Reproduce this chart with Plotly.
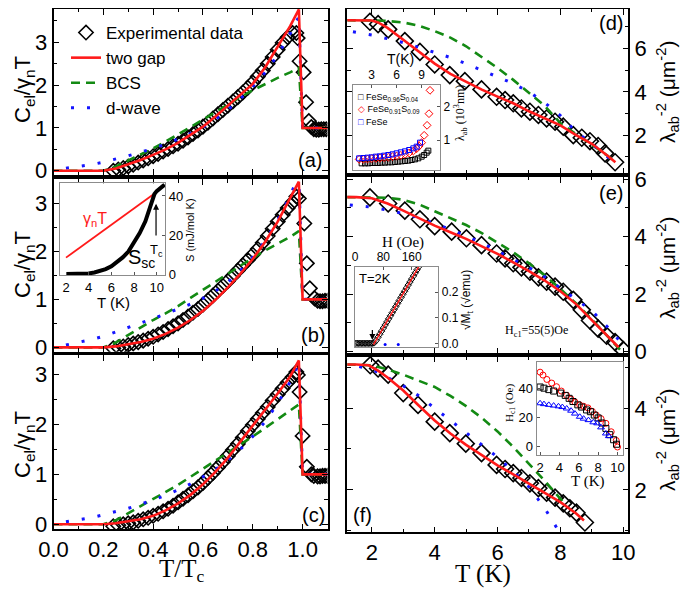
import plotly.graph_objects as go

SANS = "Liberation Sans"
SERIF = "Liberation Serif"
RED = "#ff1a1a"
GREEN = "#138a13"
BLUE = "#1515ff"

# ================= LEFT COLUMN : C_el / gamma_n T  vs  T/Tc =================
exp_x = [0.24, 0.26, 0.28, 0.30, 0.32, 0.34, 0.36, 0.38, 0.40, 0.42, 0.44, 0.46, 0.48,
         0.50, 0.52, 0.54, 0.56, 0.58, 0.60, 0.62, 0.64, 0.66, 0.68, 0.70, 0.72, 0.74,
         0.76, 0.78, 0.80, 0.82, 0.84, 0.86, 0.88, 0.90, 0.92, 0.94, 0.96]
exp_a = [0.0, 0.03, 0.06, 0.1, 0.14, 0.19, 0.24, 0.29, 0.34, 0.39, 0.45, 0.51, 0.57,
         0.63, 0.7, 0.78, 0.86, 0.94, 1.03, 1.12, 1.22, 1.32, 1.42, 1.52, 1.62, 1.72,
         1.83, 1.94, 2.06, 2.2, 2.34, 2.5, 2.66, 2.83, 2.99, 3.12, 3.22]
exp_b = [-0.02, 0.0, 0.02, 0.05, 0.08, 0.11, 0.14, 0.18, 0.22, 0.27, 0.32, 0.38, 0.44,
         0.5, 0.57, 0.64, 0.72, 0.8, 0.89, 0.98, 1.08, 1.18, 1.28, 1.38, 1.49, 1.6,
         1.71, 1.82, 1.93, 2.05, 2.18, 2.32, 2.47, 2.62, 2.76, 2.9, 3.02]
exp_c = [-0.04, -0.02, 0.0, 0.02, 0.04, 0.07, 0.1, 0.13, 0.17, 0.21, 0.26, 0.31, 0.37,
         0.44, 0.51, 0.58, 0.66, 0.74, 0.83, 0.93, 1.03, 1.14, 1.25, 1.37, 1.49, 1.61,
         1.74, 1.87, 1.99, 2.11, 2.23, 2.35, 2.48, 2.6, 2.72, 2.84, 2.95]
trans_a_x = [0.975, 0.98, 0.988, 1.004, 1.014, 1.025, 1.035, 1.045, 1.055, 1.065, 1.075, 1.085, 1.095]
trans_a_y = [3.22, 3.1, 2.56, 2.3, 1.6, 1.16, 1.02, 0.97, 0.96, 0.96, 0.97, 0.97, 0.97]
trans_b_x = [0.975, 0.985, 1.007, 1.017, 1.029, 1.048, 1.06, 1.07, 1.08, 1.09, 1.1]
trans_b_y = [3.14, 3.1, 2.58, 1.75, 1.23, 1.02, 0.97, 0.96, 0.96, 0.97, 0.97]
trans_c_x = [0.975, 0.981, 0.988, 1.0, 1.017, 1.035, 1.045, 1.06, 1.07, 1.08, 1.09, 1.1]
trans_c_y = [3.05, 2.99, 2.65, 1.77, 1.15, 1.0, 0.97, 0.96, 0.96, 0.97, 0.97, 0.97]

fit_x = [0.0, 0.2, 0.25, 0.3, 0.35, 0.4, 0.45, 0.5, 0.55, 0.6, 0.65, 0.7, 0.75, 0.8,
         0.85, 0.9, 0.95, 0.985, 1.0, 1.1]
twogap_a = [0, 0, 0.05, 0.15, 0.25, 0.37, 0.5, 0.65, 0.83, 1.03, 1.27, 1.52, 1.77, 2.03,
            2.42, 2.9, 3.38, 3.77, 1.0, 1.0]
twogap_b = [0, 0, 0.02, 0.06, 0.11, 0.18, 0.28, 0.41, 0.57, 0.76, 0.99, 1.25, 1.53, 1.84,
            2.2, 2.62, 3.1, 3.45, 1.0, 1.0]
twogap_c = [0, 0, 0.02, 0.06, 0.1, 0.17, 0.28, 0.42, 0.59, 0.8, 1.05, 1.33, 1.65, 1.98,
            2.3, 2.62, 2.96, 3.28, 1.0, 1.0]
bcs_a = [0, 0, 0.1, 0.25, 0.38, 0.52, 0.68, 0.85, 1.02, 1.2, 1.38, 1.55, 1.72, 1.88,
         2.03, 2.17, 2.3, 2.4, 1.0, 1.0]
bcs_b = [0, 0, 0.1, 0.26, 0.42, 0.57, 0.71, 0.86, 1.03, 1.2, 1.37, 1.53, 1.7, 1.86,
         2.02, 2.16, 2.3, 2.42, 1.0, 1.0]
bcs_c = [0, 0, 0.08, 0.22, 0.36, 0.5, 0.64, 0.79, 0.95, 1.11, 1.27, 1.43, 1.6, 1.76,
         1.93, 2.1, 2.28, 2.4, 1.0, 1.0]
dw_x = [0.05, 0.1, 0.15, 0.2, 0.25, 0.3, 0.35, 0.4, 0.45, 0.5, 0.55, 0.6, 0.65, 0.7,
        0.75, 0.8, 0.85, 0.9, 0.95, 0.985, 1.0, 1.1]
dwave_a = [0.06, 0.1, 0.14, 0.2, 0.27, 0.35, 0.43, 0.52, 0.62, 0.74, 0.87, 1.02, 1.2, 1.42,
           1.68, 1.97, 2.3, 2.7, 3.2, 3.6, 1.0, 1.0]
dwave_b = [0.05, 0.1, 0.16, 0.23, 0.32, 0.41, 0.5, 0.6, 0.7, 0.8, 0.9, 1.02, 1.17, 1.36,
           1.6, 1.88, 2.22, 2.65, 3.15, 3.6, 1.0, 1.0]
dwave_c = [0.05, 0.09, 0.13, 0.19, 0.25, 0.32, 0.4, 0.49, 0.58, 0.69, 0.81, 0.95, 1.1, 1.28,
           1.5, 1.76, 2.06, 2.42, 2.85, 3.25, 1.0, 1.0]
left_ticks = [0, 1, 2, 3]
left_xticks = [0.0, 0.2, 0.4, 0.6, 0.8, 1.0]

# ================= RIGHT COLUMN : lambda_ab^-2 vs T =================
d_T = [1.94, 2.2, 2.52, 3.05, 3.53, 4.0, 4.48, 4.96, 5.49, 5.97, 6.24, 6.5, 6.76, 7.03,
       7.3, 7.56, 7.83, 8.09, 8.41, 8.68, 8.94, 9.2, 9.42, 9.74]
d_lam = [7.23, 7.12, 6.88, 6.34, 5.84, 5.26, 4.77, 4.49, 4.11, 3.77, 3.62, 3.47, 3.23, 3.08,
         2.93, 2.77, 2.62, 2.39, 2.0, 1.88, 1.72, 1.5, 1.16, 0.75]
d_tg_T = [1.2, 1.5, 2.0, 2.2, 2.5, 3.0, 3.5, 4.0, 4.5, 5.0, 5.5, 6.0, 6.5, 7.0, 7.5, 8.0,
          8.5, 9.0, 9.5, 9.75]
d_tg = [7.3, 7.3, 7.29, 7.2, 6.95, 6.4, 5.85, 5.3, 4.83, 4.45, 4.1, 3.78, 3.47, 3.1, 2.78,
        2.45, 2.0, 1.6, 1.05, 0.75]
d_bcs_T = [1.2, 2.0, 2.4, 3.0, 3.5, 4.0, 4.5, 5.0, 5.5, 6.0, 6.5, 7.0, 7.5, 8.0, 8.5, 9.0,
           9.5, 9.75]
d_bcs = [7.3, 7.3, 7.28, 7.2, 7.05, 6.8, 6.5, 6.1, 5.6, 5.1, 4.55, 3.95, 3.35, 2.55, 2.05,
         1.55, 1.05, 0.75]
d_dw_T = [1.4, 2.0, 2.5, 3.0, 3.5, 4.0, 4.5, 5.0, 5.5, 6.0, 6.5, 7.0, 7.5, 8.0, 8.5, 9.0,
          9.5, 9.75]
d_dw = [6.77, 6.62, 6.45, 6.27, 6.05, 5.83, 5.58, 5.3, 5.0, 4.7, 4.38, 4.0, 3.5, 2.9, 2.15,
        1.6, 1.0, 0.7]

e_T = [1.94, 2.52, 3.05, 3.53, 4.0, 4.54, 5.01, 5.49, 5.97, 6.24, 6.5, 6.76, 7.03, 7.3,
       7.56, 7.83, 8.09, 8.41, 8.68, 8.94, 9.2, 9.47, 9.74, 10.0]
e_lam = [5.36, 5.15, 4.9, 4.6, 4.36, 4.17, 3.94, 3.7, 3.41, 3.24, 3.07, 2.93, 2.78, 2.58,
         2.43, 2.26, 2.08, 1.8, 1.45, 1.08, 0.8, 0.55, 0.33, 0.05]
e_tg_T = [1.2, 1.5, 2.0, 2.5, 3.0, 3.5, 4.0, 4.5, 5.0, 5.5, 6.0, 6.5, 7.0, 7.5, 8.0, 8.5,
          9.0, 9.5, 9.85]
e_tg = [5.37, 5.37, 5.33, 5.15, 4.9, 4.63, 4.38, 4.15, 3.92, 3.66, 3.4, 3.1, 2.8, 2.47,
        2.1, 1.65, 1.1, 0.55, 0.15]
e_bcs_T = [1.2, 2.0, 2.5, 3.0, 3.5, 4.0, 4.5, 5.0, 5.5, 6.0, 6.5, 7.0, 7.5, 8.0, 8.5, 9.0,
           9.5, 9.95]
e_bcs = [5.37, 5.37, 5.35, 5.28, 5.12, 4.88, 4.65, 4.4, 4.12, 3.8, 3.45, 3.07, 2.65, 2.18,
         1.67, 1.12, 0.55, 0.0]
e_dw_T = [1.3, 2.0, 2.5, 3.0, 3.5, 4.0, 4.5, 5.0, 5.5, 6.0, 6.5, 7.0, 7.5, 8.0, 8.5, 9.0,
          9.5, 9.9]
e_dw = [5.1, 5.02, 4.92, 4.8, 4.65, 4.45, 4.25, 4.02, 3.78, 3.5, 3.22, 2.92, 2.6, 2.2, 1.8,
        1.42, 0.85, 0.35]

f_T = [1.95, 2.2, 2.52, 3.0, 3.47, 4.0, 4.48, 4.99, 5.49, 5.97, 6.24, 6.5, 6.76, 7.03,
       7.3, 7.56, 7.83, 8.09, 8.3, 8.51, 8.78]
f_lam = [5.05, 4.97, 4.82, 4.37, 4.08, 3.67, 3.39, 3.13, 2.9, 2.61, 2.51, 2.41, 2.29, 2.16,
         2.04, 1.93, 1.81, 1.67, 1.55, 1.44, 1.2]
f_tg_T = [1.2, 1.5, 1.9, 2.2, 2.5, 3.0, 3.5, 4.0, 4.5, 5.0, 5.5, 6.0, 6.5, 7.0, 7.5, 8.0,
          8.5, 8.75]
f_tg = [5.07, 5.07, 5.05, 4.92, 4.75, 4.43, 4.06, 3.7, 3.38, 3.1, 2.85, 2.6, 2.38, 2.16,
        1.94, 1.7, 1.42, 1.25]
f_bcs_T = [1.2, 2.0, 2.5, 3.0, 3.5, 4.0, 4.5, 5.0, 5.5, 6.0, 6.5, 7.0, 7.5, 8.0, 8.1]
f_bcs = [5.07, 5.05, 4.95, 4.82, 4.67, 4.52, 4.3, 4.05, 3.76, 3.43, 3.05, 2.64, 2.22, 1.78, 1.7]
f_dw_T = [1.6, 2.0, 2.5, 3.0, 3.5, 4.0, 4.5, 5.0, 5.5, 6.0, 6.5, 7.0, 7.5, 7.9, 8.1]
f_dw = [5.02, 4.95, 4.75, 4.55, 4.3, 4.0, 3.72, 3.42, 3.12, 2.8, 2.45, 2.07, 1.55, 1.06, 0.8]
right_xticks = [2, 4, 6, 8, 10]

# ================= INSETS =================
# (b) entropy
insb_gamma_T = [2.0, 9.75]
insb_gamma_S = [8.4, 41.0]
insb_T = [2.0, 3.0, 4.0, 4.5, 5.0, 5.5, 6.0, 6.5, 7.0, 7.5, 8.0, 8.5, 9.0, 9.3, 9.6, 9.8,
          10.0, 10.3, 10.7]
insb_S = [0.0, 0.0, 0.3, 0.8, 1.5, 2.5, 4.0, 6.0, 8.5, 11.5, 16.0, 21.0, 27.0, 32.0, 38.0,
          41.0, 42.5, 44.0, 45.8]
# (d) penetration depth
insd_T_k = [1.8, 2.2, 2.6, 3.0, 3.4, 3.8, 4.2, 4.6, 5.0, 5.4, 5.8, 6.2, 6.6, 7.0, 7.4, 7.8,
            8.2, 8.6, 9.0, 9.3, 9.6, 9.8]
insd_l_k = [0.3, 0.3, 0.3, 0.31, 0.31, 0.31, 0.32, 0.32, 0.33, 0.33, 0.34, 0.35, 0.36, 0.37,
            0.38, 0.4, 0.42, 0.45, 0.5, 0.55, 0.62, 0.68]
insd_T_r = [1.5, 2.0, 2.5, 3.0, 3.5, 4.0, 4.5, 5.0, 5.5, 6.0, 6.5, 7.0, 7.5, 8.0, 8.4, 8.7,
            9.0, 9.3, 9.65, 9.88, 10.0]
insd_l_r = [0.42, 0.42, 0.43, 0.44, 0.45, 0.46, 0.47, 0.48, 0.5, 0.52, 0.54, 0.57, 0.61, 0.67,
            0.74, 0.82, 0.92, 1.14, 1.44, 1.79, 2.49]
insd_T_b = [1.5, 2.0, 2.5, 3.0, 3.5, 4.0, 4.5, 5.0, 5.5, 6.0, 6.5, 7.0, 7.5, 8.0, 8.4, 8.8]
insd_l_b = [0.45, 0.46, 0.47, 0.48, 0.5, 0.51, 0.53, 0.55, 0.57, 0.6, 0.63, 0.66, 0.7, 0.75,
            0.8, 0.92]
# (e) magnetisation
inse_H = [2, 6, 10, 14, 18, 22, 26, 30, 34, 38, 42, 46, 50, 54, 60, 65, 70, 75, 80, 85, 90,
          95, 100, 105, 110, 115, 120, 125, 130, 135, 140, 145, 150, 155, 160, 165, 170, 175, 180]
inse_M = [0.0, 0.0, 0.0, 0.0, 0.0, 0.0, 0.0, 0.0, 0.0, 0.0, 0.0, 0.0, 0.0, 0.002, 0.012,
          0.024, 0.036, 0.048, 0.06, 0.072, 0.084, 0.096, 0.108, 0.12, 0.132, 0.144, 0.156,
          0.168, 0.18, 0.192, 0.204, 0.216, 0.228, 0.24, 0.252, 0.264, 0.276, 0.288, 0.3]
inse_fit_H = [52, 182]
inse_fit_M = [-0.005, 0.305]
inse_blue_H = [85, 122]
inse_blue_M = [-0.004, -0.004]
# (f) Hc1
insf_T_r = [2.0, 2.3, 2.7, 3.2, 3.7, 4.2, 4.75, 5.2, 5.6, 6.1, 6.5, 6.95, 7.4, 7.8, 8.3,
            8.8, 9.35, 9.87, 10.0]
insf_H_r = [51, 49, 46, 43.5, 41, 38, 35, 32.5, 30.5, 28.5, 27.5, 26.4, 24, 21.5, 19, 15.8,
            10, 4, -0.5]
insf_T_k = [2.0, 2.4, 2.9, 3.4, 4.1, 4.6, 5.0, 5.4, 5.9, 6.3, 6.8, 7.2, 7.6, 8.0, 8.4, 8.8,
            9.2, 9.6, 9.9]
insf_H_k = [40.8, 40, 39, 38, 36.6, 35, 33, 30.8, 28.5, 27, 25, 23.8, 21.5, 19.5, 16, 12.3,
            8, 4.5, 1.4]
insf_T_b = [2.0, 2.4, 2.9, 3.4, 3.9, 4.3, 4.75, 5.2, 5.6, 6.1, 6.5, 7.0, 7.5, 7.9, 8.3, 8.8,
            9.1]
insf_H_b = [29.6, 29, 28.5, 28, 27.5, 27, 26, 24.5, 22.5, 20.3, 19, 18, 16.5, 15.8, 13, 8.8, 7]

# ================= FIGURE =================
# the page body has an 8 px default margin: the figure is drawn 8 px in from the
# window corner, so it is 682x581 and positions are given in window pixels.
OFF = 8
W, H = 690 - OFF, 589 - OFF


def px(x):
    return min(max((x - OFF) / W, 0.0), 1.0)


def py(y):
    return min(max(1 - (y - OFF) / H, 0.0), 1.0)


fig = go.Figure()


def diamonds(x, y, xa, ya, size, show=False):
    fig.add_trace(go.Scatter(
        x=x, y=y, xaxis=xa, yaxis=ya, mode="markers", name="Experimental data",
        legendrank=1, showlegend=show,
        marker=dict(symbol="diamond-open", size=size, color="black",
                    line=dict(width=1.6, color="black"))))


def line(x, y, xa, ya, kind, show=False):
    style = {
        "tg": dict(color=RED, width=2.6),
        "bcs": dict(color=GREEN, width=2.6, dash="9px,6px"),
        "dw": dict(color=BLUE, width=3, dash="3px,13px"),
    }[kind]
    name = {"tg": "two gap", "bcs": "BCS", "dw": "d-wave"}[kind]
    rank = {"tg": 2, "bcs": 3, "dw": 4}[kind]
    fig.add_trace(go.Scatter(x=x, y=y, xaxis=xa, yaxis=ya, mode="lines", name=name,
                             legendrank=rank, showlegend=show, line=style))


left = [("x", "y", exp_a, trans_a_x, trans_a_y, twogap_a, bcs_a, dwave_a),
        ("x2", "y2", exp_b, trans_b_x, trans_b_y, twogap_b, bcs_b, dwave_b),
        ("x3", "y3", exp_c, trans_c_x, trans_c_y, twogap_c, bcs_c, dwave_c)]
for i, (xa, ya, ey, tx, ty, tg, bc, dw) in enumerate(left):
    first = i == 0
    diamonds(exp_x + tx, ey + ty, xa, ya, 11, first)
    line(fit_x, bc, xa, ya, "bcs", first)
    line(dw_x, dw, xa, ya, "dw", first)
    line(fit_x, tg, xa, ya, "tg", first)

right = [("x4", "y4", d_T, d_lam, d_tg_T, d_tg, d_bcs_T, d_bcs, d_dw_T, d_dw),
         ("x5", "y5", e_T, e_lam, e_tg_T, e_tg, e_bcs_T, e_bcs, e_dw_T, e_dw),
         ("x6", "y6", f_T, f_lam, f_tg_T, f_tg, f_bcs_T, f_bcs, f_dw_T, f_dw)]
for xa, ya, T, L, tT, tL, bT, bL, wT, wL in right:
    diamonds(T, L, xa, ya, 13)
    line(bT, bL, xa, ya, "bcs")
    line(wT, wL, xa, ya, "dw")
    line(tT, tL, xa, ya, "tg")

# inset (b)
fig.add_trace(go.Scatter(x=insb_gamma_T, y=insb_gamma_S, xaxis="x7", yaxis="y7", mode="lines",
                         line=dict(color=RED, width=1.8), showlegend=False))
fig.add_trace(go.Scatter(x=insb_T, y=insb_S, xaxis="x7", yaxis="y7", mode="lines",
                         line=dict(color="black", width=4), showlegend=False))
# inset (d)
fig.add_trace(go.Scatter(x=insd_T_k, y=insd_l_k, xaxis="x8", yaxis="y8", mode="markers",
                         marker=dict(symbol="square-open", size=5, color="black",
                                     line=dict(width=1)), showlegend=False))
fig.add_trace(go.Scatter(x=insd_T_r, y=insd_l_r, xaxis="x8", yaxis="y8", mode="markers",
                         marker=dict(symbol="diamond-open", size=6, color="red",
                                     line=dict(width=1)), showlegend=False))
fig.add_trace(go.Scatter(x=insd_T_b, y=insd_l_b, xaxis="x8", yaxis="y8", mode="markers",
                         marker=dict(symbol="square-open", size=5, color="blue",
                                     line=dict(width=1)), showlegend=False))
# inset (e)
fig.add_trace(go.Scatter(x=inse_H, y=inse_M, xaxis="x9", yaxis="y9", mode="markers",
                         marker=dict(symbol="diamond-open", size=5, color="black",
                                     line=dict(width=1)), showlegend=False))
fig.add_trace(go.Scatter(x=inse_blue_H, y=inse_blue_M, xaxis="x9", yaxis="y9", mode="markers",
                         marker=dict(symbol="circle", size=3, color="blue"), showlegend=False))
fig.add_trace(go.Scatter(x=inse_fit_H, y=inse_fit_M, xaxis="x9", yaxis="y9", mode="lines",
                         line=dict(color=RED, width=1.5), showlegend=False))
# inset (f)
fig.add_trace(go.Scatter(x=insf_T_r, y=insf_H_r, xaxis="x10", yaxis="y10", mode="markers",
                         marker=dict(symbol="circle-open", size=6, color="red",
                                     line=dict(width=1)), showlegend=False))
fig.add_trace(go.Scatter(x=insf_T_k, y=insf_H_k, xaxis="x10", yaxis="y10", mode="markers",
                         marker=dict(symbol="square-open", size=6, color="black",
                                     line=dict(width=1)), showlegend=False))
fig.add_trace(go.Scatter(x=insf_T_b, y=insf_H_b, xaxis="x10", yaxis="y10", mode="markers",
                         marker=dict(symbol="triangle-up-open", size=6, color="blue",
                                     line=dict(width=1)), showlegend=False))

TF = dict(family=SANS, size=22, color="black")


def main_x(domain, anchor, rng, tickvals, minor, labels):
    return dict(domain=domain, anchor=anchor, range=rng, tickvals=tickvals,
                showticklabels=labels, tickfont=TF, ticks="inside", ticklen=6,
                tickwidth=1.3, tickcolor="black", showline=True, linecolor="black",
                linewidth=1.5, mirror="allticks", showgrid=False, zeroline=False,
                automargin=False,
                tickformat=".1f" if rng[1] < 2 else "d",
                minor=dict(dtick=minor, ticks="inside", ticklen=3.5, tickcolor="black",
                           showgrid=False))


def main_y(domain, anchor, rng, tickvals, minor, side):
    return dict(domain=domain, anchor=anchor, range=rng, tickvals=tickvals, side=side,
                tickfont=TF, ticks="inside", ticklen=6, tickwidth=1.3, tickcolor="black",
                showline=True, linecolor="black", linewidth=1.5, mirror="allticks",
                showgrid=False, zeroline=False, automargin=False,
                minor=dict(dtick=minor, ticks="inside", ticklen=3.5, tickcolor="black",
                           showgrid=False))


LX = [px(53.5), px(327.5)]
RX = [px(347.3), px(628.3)]


def inset_ax(domain, anchor, rng, tickvals, side, fmt=None, size=13):
    d = dict(domain=domain, anchor=anchor, range=rng, tickvals=tickvals, side=side,
             tickfont=dict(family=SANS, size=size, color="black"), ticks="inside",
             ticklen=3, tickcolor="#555", showline=True, linecolor="#8c8c8c", linewidth=1.3,
             mirror=True, showgrid=False, zeroline=False, automargin=False)
    if fmt:
        d["tickformat"] = fmt
    return d


fig.update_layout(
    width=W, height=H, margin=dict(l=0, r=0, t=0, b=0, pad=0, autoexpand=False),
    plot_bgcolor="white", paper_bgcolor="white",
    font=dict(family=SANS, color="black"),
    xaxis=main_x(LX, "y", [0, 1.1], left_xticks, 0.1, False),
    yaxis=main_y([py(175), py(9)], "x", [-0.1, 3.78], left_ticks, 0.5, "left"),
    xaxis2=main_x(LX, "y2", [0, 1.1], left_xticks, 0.1, False),
    yaxis2=main_y([py(351.7), py(179.3)], "x2", [-0.09, 3.5], left_ticks, 0.5, "left"),
    xaxis3=main_x(LX, "y3", [0, 1.1], left_xticks, 0.1, True),
    yaxis3=main_y([py(529.3), py(355)], "x3", [-0.1, 3.39], left_ticks, 0.5, "left"),
    xaxis4=main_x(RX, "y4", [1.22, 10.16], right_xticks, 1, False),
    yaxis4=main_y([py(173.3), py(9)], "x4", [0.24, 7.82], [2, 4, 6], 1, "right"),
    xaxis5=main_x(RX, "y5", [1.22, 10.16], right_xticks, 1, False),
    yaxis5=main_y([py(353.3), py(177)], "x5", [-0.06, 6.07], [0, 2, 4, 6], 1, "right"),
    xaxis6=main_x(RX, "y6", [1.22, 10.16], right_xticks, 1, True),
    yaxis6=main_y([py(532.3), py(356.7)], "x6", [0.96, 5.26], [2, 4], 1, "right"),
    xaxis7=inset_ax([px(60), px(165)], "y7", [1.47, 10.73], [2, 4, 6, 8, 10], "bottom"),
    yaxis7=inset_ax([py(275), py(183.3)], "x7", [-0.5, 46.5], [0, 20, 40], "right"),
    xaxis8=inset_ax([px(353.3), px(440)], "y8", [0.8, 11.2], [3, 6, 9], "top", size=12),
    yaxis8=inset_ax([py(170), py(85)], "x8", [0.1, 2.65], [1, 2], "right", size=12),
    xaxis9=inset_ax([px(355), px(438.3)], "y9", [0, 235], [0, 80, 160], "top", size=12),
    yaxis9=inset_ax([py(346.7), py(266.7)], "x9", [-0.013, 0.3], [0, 0.1, 0.2], "right",
                    fmt=".1f", size=12),
    xaxis10=inset_ax([px(536.7), px(623.3)], "y10", [1.65, 10.6], [2, 4, 6, 8, 10], "bottom"),
    yaxis10=inset_ax([py(455), py(362)], "x10", [-6, 58], [0, 20, 40], "left"),
    legend=dict(x=px(66), y=py(15), xanchor="left", yanchor="top",
                bgcolor="rgba(0,0,0,0)", font=dict(family=SANS, size=17, color="black"),
                tracegroupgap=0, itemwidth=30),
)

ann = []


def text(x, y, t, size, family=SANS, color="black", angle=0, xanchor="center"):
    ann.append(dict(x=px(x), y=py(y), xref="paper", yref="paper", text=t, showarrow=False,
                    font=dict(family=family, size=size, color=color), textangle=angle,
                    xanchor=xanchor, yanchor="middle"))


# axis titles
for yc in (90, 265, 445):
    text(24, yc, "C<sub>el</sub>/γ<sub>n</sub>T", 22, angle=-90)
for yc in (92, 268, 440):
    text(667, yc, "λ<sub>ab</sub><sup>-2</sup> (μm<sup>-2</sup>)", 21, angle=-90)
text(182, 570, "T/T<sub>c</sub>", 25, family=SERIF)
text(483, 574, "T (K)", 25, family=SERIF)
# panel labels
for (x, y, t) in [(310, 160, "(a)"), (313, 335, "(b)"), (313, 515, "(c)"),
                  (611, 23, "(d)"), (611, 193, "(e)"), (362, 515, "(f)")]:
    text(x, y, t, 20)
# inset (b)
text(113, 302, "T (K)", 15)
text(190, 230, "S (mJ/mol K)", 11, angle=-90)
ann.append(dict(x=4.6, y=28, xref="x7", yref="y7", text="γ<sub>n</sub>T", showarrow=False,
                font=dict(family=SANS, size=16, color=RED)))
ann.append(dict(x=8.7, y=8, xref="x7", yref="y7", text="S<sub>sc</sub>", showarrow=False,
                font=dict(family=SANS, size=20, color="black")))
ann.append(dict(x=9.94, y=12, xref="x7", yref="y7", text="T<sub>c</sub>", showarrow=False,
                font=dict(family=SANS, size=13, color="black")))
ann.append(dict(x=9.94, y=36, ax=9.94, ay=19, xref="x7", yref="y7", axref="x7", ayref="y7",
                text="", showarrow=True, arrowhead=2, arrowsize=1, arrowwidth=1.2,
                arrowcolor="black"))
# inset (d)
text(400, 59, "T(K)", 14)
text(460, 113, "λ<sub>ab</sub> (10<sup>3</sup>nm)", 12, family=SERIF, angle=-90)
text(356, 97, "<span style='color:black'>□</span> FeSe<sub>0.96</sub>S<sub>0.04</sub>", 9,
     xanchor="left")
text(356, 109, "<span style='color:red'>◇</span> FeSe<sub>0.91</sub>S<sub>0.09</sub>", 9,
     xanchor="left")
text(356, 122, "<span style='color:blue'>□</span> FeSe", 9, xanchor="left")
# inset (e)
text(403, 243, "H (Oe)", 15, family=SERIF)
text(467, 300, "√M<sub>t</sub> (√emu)", 12, angle=-90)
ann.append(dict(x=5, y=0.255, xref="x9", yref="y9", text="T=2K", showarrow=False,
                xanchor="left", font=dict(family=SANS, size=13, color="black")))
ann.append(dict(x=49, y=0.013, ax=49, ay=0.058, xref="x9", yref="y9", axref="x9", ayref="y9",
                text="", showarrow=True, arrowhead=2, arrowsize=1, arrowwidth=1.2,
                arrowcolor="black"))
text(536, 331, "H<sub>c1</sub>=55(5)Oe", 12, family=SERIF)
# inset (f)
text(510, 403, "H<sub>c1</sub> (Oe)", 11, family=SERIF, angle=-90)
text(587, 481, "T (K)", 15, family=SERIF)

fig.update_layout(annotations=ann)
fig.write_html("out.html")
